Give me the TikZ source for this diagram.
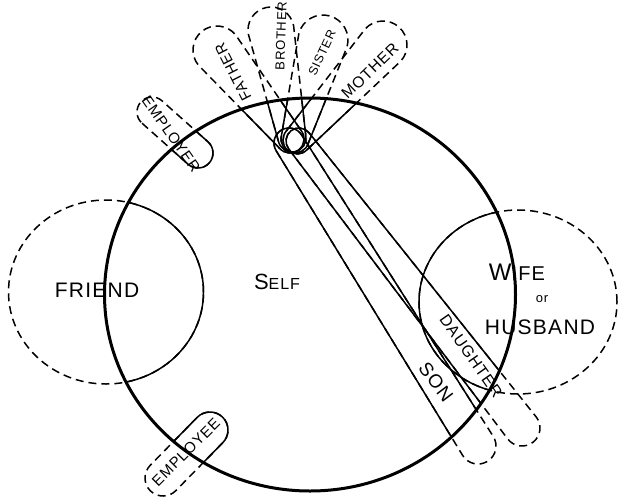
\documentclass[tikz,border=0pt]{standalone}
\usepackage{fontspec}
\newfontfamily\hand[LetterSpace=6]{Liberation Sans}
\usetikzlibrary{calc}

% band round two circles: #1 centre, #2 radius, #3 centre, #4 radius
\newcommand{\band}[4]{%
  \draw let \p1=($(#3)-(#1)$), \n1={atan2(\y1,\x1)} in
    ($(#1)+(\n1-90:#2)$) -- ($(#3)+(\n1-90:#4)$)
    arc[start angle=\n1-90, delta angle=180, radius=#4]
    -- ($(#1)+(\n1+90:#2)$)
    arc[start angle=\n1+90, delta angle=180, radius=#2] -- cycle;}

% all the ties, drawn once dashed and once solid inside the self
\newcommand{\ties}{%
  \draw (friend) ellipse [x radius=97.5, y radius=92];
  \draw (wife) ellipse [x radius=99, y radius=92];
  \band{hubF}{14}{father}{24}
  \band{hubB}{14}{brother}{23}
  \band{hubS}{14}{sister}{25}
  \band{hubM}{14}{mother}{24}
  \band{hubSon}{15}{son}{18}
  \band{hubD}{13}{daughter}{18}
  \band{emprA}{15}{emprB}{15}
  \band{empeA}{18}{empeB}{18}}

\begin{document}
\begin{tikzpicture}[x=0.5pt,y=0.5pt,line width=0.75pt,
  tie/.style={dash pattern=on 4pt off 2.5pt},
  lbl/.style={font=\hand\fontsize{7.5}{8}\selectfont,inner sep=0pt},
  big/.style={font=\hand\fontsize{10.5}{11}\selectfont,inner sep=0pt}]
  \useasboundingbox (0,0) rectangle (620,500);
  % centres
  \coordinate (self) at (310,205.5);
  \coordinate (friend) at (106,208);
  \coordinate (wife) at (518,198);
  \coordinate (hubF) at (290,361);
  \coordinate (hubB) at (292,362);
  \coordinate (hubS) at (295,361);
  \coordinate (hubM) at (297,360);
  \coordinate (hubSon) at (289,357);
  \coordinate (hubD) at (299,359);
  \coordinate (father) at (217,450);
  \coordinate (brother) at (271,470);
  \coordinate (sister) at (323,460);
  \coordinate (mother) at (383,455);
  \coordinate (son) at (478,54);
  \coordinate (daughter) at (522,72);
  \coordinate (emprA) at (152,388);
  \coordinate (emprB) at (198,347);
  \coordinate (empeA) at (210,70);
  \coordinate (empeB) at (163,22);

  \begin{scope}[tie]
    \ties
  \end{scope}
  \begin{scope}
    \clip (self) ellipse [x radius=205.5, y radius=196.5];
    \ties
  \end{scope}
  \draw[line width=1.5pt] (self) ellipse [x radius=205.5, y radius=196.5];

  % labels
  \node[inner sep=0pt] (selflbl) at (277,218) {\hand\fontsize{11}{11}\selectfont S\fontsize{8}{8}\selectfont ELF};
  \node[big] (friendlbl) at (97,210) {FRIEND};
  \node[inner sep=0pt] (wifelbl) at (517,228) {\hand\fontsize{12}{12}\selectfont W\fontsize{10}{10}\selectfont IFE};
  \node[font=\hand\fontsize{6.5}{7}\selectfont,inner sep=0pt] (orlbl) at (542,201) {or};
  \node[big] (husbandlbl) at (540,173) {HUSBAND};
  \node[lbl,rotate=117] (fatherlbl) at (233,428) {FATHER};
  \node[lbl,rotate=88,font=\hand\fontsize{6.5}{7}\selectfont] (brotherlbl) at (281,464) {BROTHER};
  \node[lbl,rotate=65,font=\hand\fontsize{6.2}{7}\selectfont] (sisterlbl) at (322,447) {SISTER};
  \node[lbl,rotate=44,font=\hand\fontsize{7.8}{8}\selectfont] (motherlbl) at (370,429) {MOTHER};
  \node[lbl,rotate=-55] (employerlbl) at (171,366) {EMPLOYER};
  \node[lbl,rotate=45] (employeelbl) at (186,48) {EMPLOYEE};
  \node[lbl,rotate=-55,font=\hand\fontsize{8}{8}\selectfont] (daughterlbl) at (471,144) {DAUGHTER};
  \node[lbl,rotate=-53,font=\hand\fontsize{9.5}{10}\selectfont] (sonlbl) at (436,118) {SON};
\end{tikzpicture}
\end{document}
